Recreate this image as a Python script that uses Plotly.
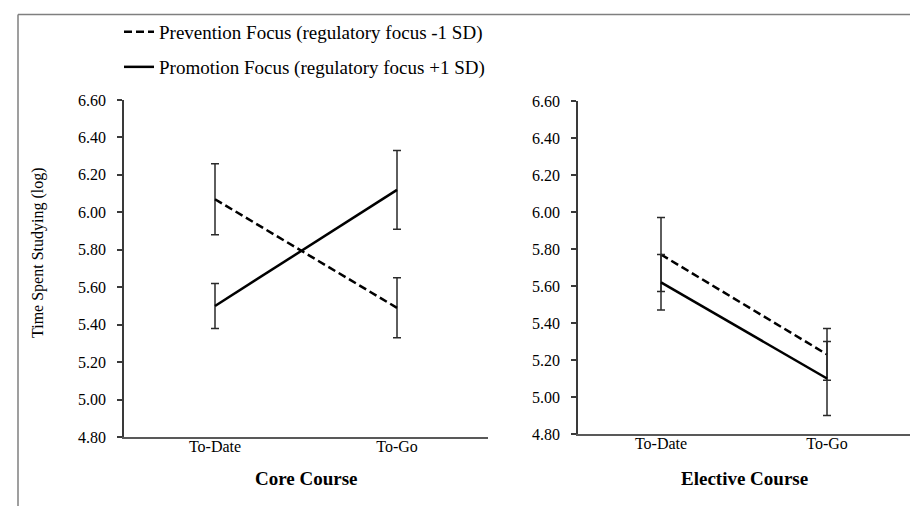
import plotly.graph_objects as go

W, H = 918, 506

categories = ["To-Date", "To-Go"]
series_names = ["Prevention Focus (regulatory focus -1 SD)",
                "Promotion Focus (regulatory focus +1 SD)"]

core_prevention = [6.07, 5.49]
core_prevention_err = [0.19, 0.16]
core_promotion = [5.50, 6.12]
core_promotion_err = [0.12, 0.21]

elective_prevention = [5.77, 5.23]
elective_prevention_err = [0.20, 0.14]
elective_promotion = [5.62, 5.10]
elective_promotion_err = [0.15, 0.20]

y_ticks = [4.80, 5.00, 5.20, 5.40, 5.60, 5.80, 6.00, 6.20, 6.40, 6.60]
y_tick_labels = [f"{v:.2f}" for v in y_ticks]
panel_titles = ["Core Course", "Elective Course"]
y_title = "Time Spent Studying (log)"

FONT = "Liberation Serif"
LINE = "#000000"
ERR = "#2a2a2a"

fig = go.Figure()

def add_series(y, err, name, dash, xa, ya, showleg, legend):
    fig.add_trace(go.Scatter(
        x=categories, y=y, name=name, mode="lines",
        line=dict(color=LINE, width=2.5, dash=dash),
        error_y=dict(type="data", array=err, visible=True,
                     color=ERR, thickness=1.5, width=4),
        xaxis=xa, yaxis=ya, showlegend=showleg, legend=legend,
        hoverinfo="x+y",
    ))

add_series(core_prevention, core_prevention_err, series_names[0], "8px,4px", "x", "y", True, "legend")
add_series(core_promotion, core_promotion_err, series_names[1], "solid", "x", "y", True, "legend2")
add_series(elective_prevention, elective_prevention_err, series_names[0], "8px,4px", "x2", "y2", False, "legend")
add_series(elective_promotion, elective_promotion_err, series_names[1], "solid", "x2", "y2", False, "legend2")

def xaxis(domain, anchor):
    return dict(domain=domain, anchor=anchor, type="category",
                range=[-0.5, 1.5], showline=True, linecolor="#595959",
                linewidth=2, ticks="", showgrid=False, zeroline=False,
                tickfont=dict(family=FONT, size=16, color="#000"),
                ticklabelstandoff=-6,
                automargin=False, fixedrange=True)

def yaxis(domain, anchor):
    return dict(domain=domain, anchor=anchor, range=[4.8, 6.6],
                tickvals=y_ticks, ticktext=y_tick_labels,
                showline=True, linecolor="#3a3a3a", linewidth=1.5,
                ticks="outside", ticklen=5, tickcolor="#3a3a3a", tickwidth=1.5,
                ticklabelstandoff=8,
                showgrid=False, zeroline=False,
                tickfont=dict(family=FONT, size=16, color="#000"),
                automargin=False, fixedrange=True)

fig.update_layout(
    width=W, height=H,
    margin=dict(l=0, r=0, t=0, b=0),
    paper_bgcolor="white", plot_bgcolor="white",
    font=dict(family=FONT, color="#000"),
    xaxis=xaxis([116 / W, 480 / W], "y"),
    yaxis=yaxis([77 / H, 414 / H], "x"),
    xaxis2=xaxis([570 / W, 902 / W], "y2"),
    yaxis2=yaxis([80 / H, 413 / H], "x2"),
    legend=dict(x=111 / W, y=1 - 24 / H, xanchor="left", yanchor="middle",
                bgcolor="rgba(0,0,0,0)", font=dict(family=FONT, size=19, color="#000")),
    legend2=dict(x=111 / W, y=1 - 59 / H, xanchor="left", yanchor="middle",
                 bgcolor="rgba(0,0,0,0)", font=dict(family=FONT, size=19, color="#000")),
    showlegend=True,
    shapes=[
        dict(type="line", xref="paper", yref="paper", x0=10 / W, x1=1.0,
             y0=1 - 6.5 / H, y1=1 - 6.5 / H, line=dict(color="#7f7f7f", width=1.5)),
        dict(type="line", xref="paper", yref="paper", x0=10 / W, x1=10 / W,
             y0=0, y1=1 - 6.5 / H, line=dict(color="#7f7f7f", width=1.5)),
    ],
    annotations=[
        dict(text=panel_titles[0], xref="x domain", yref="paper", x=0.5,
             y=1 - 470 / H, yanchor="middle", showarrow=False,
             font=dict(family=FONT, size=19, color="#000", weight="bold")),
        dict(text=panel_titles[1], xref="x2 domain", yref="paper", x=0.5,
             y=1 - 470 / H, yanchor="middle", showarrow=False,
             font=dict(family=FONT, size=19, color="#000", weight="bold")),
        dict(text=y_title, xref="paper", yref="paper", x=30 / W,
             y=1 - 245 / H, textangle=-90, showarrow=False,
             xanchor="center", yanchor="middle",
             font=dict(family=FONT, size=16, color="#000")),
    ],
)

fig.write_html("out.html")
